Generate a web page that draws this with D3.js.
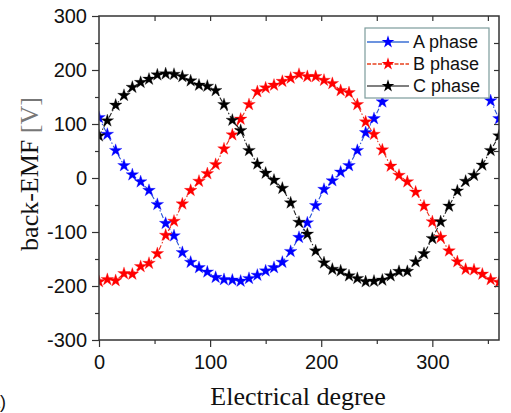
<!DOCTYPE html>
<html lang="en">
<head>
    <meta charset="UTF-8">
    <title>back-EMF</title>
    <script src="https://d3js.org/d3.v7.min.js"></script>
    <style>
        body { margin: 0; background: #fff; }
        svg { display: block; }
        .tick text { font-family: "Liberation Sans", Arial, sans-serif; font-size: 20px; fill: #111; }
    </style>
</head>
<body>
    <div id="chart"></div>

    <script>
        // Data (one point every 7.5 electrical degrees)
        const degrees = d3.range(49).map(i => i * 7.5);
        const phaseA = [112, 81, 51, 23, 6, -7, -23, -49, -84, -107,
                        -138, -156, -166, -174, -184, -188, -189, -191, -186, -180,
                        -172, -166, -156, -136, -110, -83, -51, -21, -5, 11,
                        23, 51, 84, 110, 141, 160, 167, 172, 179, 185,
                        192, 188, 188, 181, 175, 162, 158, 143, 110];
        const phaseB = [-192, -188, -190, -177, -178, -164, -158, -140, -106, -80,
                        -48, -23, -6, 8, 25, 54, 80, 109, 136, 160,
                        167, 172, 179, 185, 192, 188, 188, 181, 175, 162,
                        158, 136, 104, 81, 52, 22, 5, -7, -26, -52,
                        -81, -110, -135, -155, -169, -170, -178, -188, -193];
        const phaseC = [78, 106, 135, 153, 168, 177, 183, 191, 193, 192,
                        188, 180, 172, 170, 162, 136, 107, 88, 51, 26,
                        9, -4, -19, -46, -82, -104, -135, -157, -169, -172,
                        -181, -186, -192, -191, -189, -181, -173, -173, -155, -140,
                        -112, -81, -52, -24, -6, 5, 24, 51, 78];
        const seriesNames = ["A phase", "B phase", "C phase"];
        const xTicks = [0, 100, 200, 300];
        const yTicks = [-300, -200, -100, 0, 100, 200, 300];

        const width = 511, height = 413;
        const margin = { left: 99, top: 16, right: 12, bottom: 73 };

        const svg = d3.select("#chart").append("svg")
            .attr("width", width)
            .attr("height", height);

        const x = d3.scaleLinear().domain([0, 360]).range([margin.left, width - margin.right]);
        const y = d3.scaleLinear().domain([-300, 300]).range([height - margin.bottom, margin.top]);

        const styles = [
            { line: "#2b55d6", mark: "#0000ff", dash: "5,2,1.5,2" },
            { line: "#e8321e", mark: "#ff0000", dash: "5,2,1.5,2" },
            { line: "#222", mark: "#000", dash: "5,2,1.5,2" }
        ];
        const series = [phaseA, phaseB, phaseC];

        // clip to plot area
        svg.append("clipPath").attr("id", "clip")
            .append("rect")
            .attr("x", x(0)).attr("y", y(300))
            .attr("width", x(360) - x(0)).attr("height", y(-300) - y(300));

        const plot = svg.append("g").attr("clip-path", "url(#clip)");
        const line = d3.line().x((d, i) => x(degrees[i])).y(d => y(d));
        const star = d3.symbol().type(d3.symbolStar).size(50);

        series.forEach((vals, k) => {
            plot.append("path")
                .attr("d", line(vals))
                .attr("fill", "none")
                .attr("stroke", styles[k].line)
                .attr("stroke-width", 1.1)
                .attr("stroke-dasharray", styles[k].dash);
        });
        series.forEach((vals, k) => {
            plot.selectAll(null)
                .data(vals)
                .join("path")
                .attr("d", star)
                .attr("transform", (d, i) => `translate(${x(degrees[i])},${y(d)})`)
                .attr("fill", styles[k].mark)
                .attr("stroke", styles[k].mark)
                .attr("stroke-opacity", 0.35)
                .attr("stroke-width", 0.8);
        });

        // axes
        const axisColor = "#333";
        const x0 = y(-300), yTop = y(300);
        const fmt = d => String(d);

        svg.append("g").attr("transform", `translate(0,${x0})`)
            .call(d3.axisBottom(x).tickValues(xTicks).tickSize(7).tickPadding(8).tickFormat(fmt));
        svg.append("g").attr("transform", `translate(0,${x0})`)
            .call(d3.axisBottom(x).tickValues([50, 150, 250, 350]).tickSize(4).tickFormat(""));

        svg.append("g").attr("transform", `translate(${x(0)},0)`)
            .call(d3.axisLeft(y).tickValues(yTicks).tickSize(7).tickPadding(5).tickFormat(fmt));
        svg.append("g").attr("transform", `translate(${x(0)},0)`)
            .call(d3.axisLeft(y).tickValues([-250, -150, -50, 50, 150, 250]).tickSize(4).tickFormat(""));

        svg.append("g").attr("transform", `translate(0,${yTop})`)
            .call(d3.axisTop(x).tickValues(d3.range(50, 360, 50)).tickSize(-5).tickFormat(""));
        svg.append("g").attr("transform", `translate(${x(360)},0)`)
            .call(d3.axisRight(y).tickValues(d3.range(-250, 300, 50)).tickSize(-5).tickFormat(""));

        svg.selectAll(".domain").remove();
        svg.selectAll(".tick line").attr("stroke", axisColor).attr("stroke-width", 1.2);

        svg.append("rect")
            .attr("x", x(0)).attr("y", yTop)
            .attr("width", x(360) - x(0)).attr("height", x0 - yTop)
            .attr("fill", "none")
            .attr("stroke", axisColor)
            .attr("stroke-width", 1.5);

        // axis titles
        svg.append("text")
            .attr("x", 298).attr("y", 405)
            .attr("text-anchor", "middle")
            .style("font-family", "'Liberation Serif', 'Times New Roman', serif")
            .style("font-size", "26px")
            .attr("fill", "#111")
            .text("Electrical degree");

        const yt = svg.append("text")
            .attr("transform", "translate(38,174) rotate(-90)")
            .attr("text-anchor", "middle")
            .style("font-family", "'Liberation Serif', 'Times New Roman', serif")
            .style("font-size", "26px")
            .attr("fill", "#111");
        yt.append("tspan").text("back-EMF ");
        yt.append("tspan").attr("fill", "#777").text("[V]");

        svg.append("text")
            .attr("x", 6).attr("y", 408)
            .attr("text-anchor", "end")
            .style("font-family", "'Liberation Sans', Arial, sans-serif")
            .style("font-size", "18px")
            .attr("fill", "#111")
            .text("(a)");

        // legend
        const lg = svg.append("g").attr("transform", "translate(365,28)");
        lg.append("rect")
            .attr("width", 124).attr("height", 70)
            .attr("fill", "#fff")
            .attr("stroke", "#7c9c9c")
            .attr("stroke-width", 1.2);
        const legendLine = ["#3b6fd4", "#e8421e", "#555"];
        const legendDash = [null, "4,1.5", null];
        seriesNames.forEach((name, k) => {
            const cy = 14 + k * 22;
            lg.append("line")
                .attr("x1", 2).attr("x2", 44).attr("y1", cy).attr("y2", cy)
                .attr("stroke", legendLine[k])
                .attr("stroke-width", 1.6)
                .attr("stroke-dasharray", legendDash[k]);
            lg.append("path")
                .attr("d", star)
                .attr("transform", `translate(23,${cy})`)
                .attr("fill", styles[k].mark);
            lg.append("text")
                .attr("x", 48).attr("y", cy + 6)
                .style("font-family", "'Liberation Sans', Arial, sans-serif")
                .style("font-size", "18px")
                .attr("fill", "#111")
                .text(name);
        });
    </script>
</body>
</html>
